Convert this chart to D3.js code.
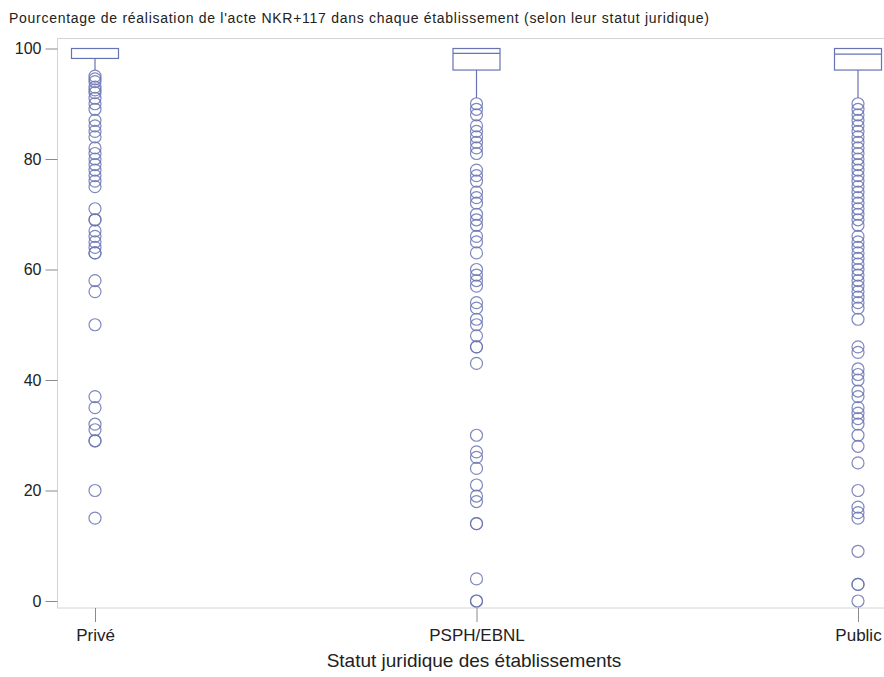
<!DOCTYPE html>
<html>
<head>
<meta charset="utf-8">
<script src="https://cdn.jsdelivr.net/npm/d3@7"></script>
<style>
  body { margin: 0; background: #fff; }
  svg text { font-family: Arial, "Liberation Sans", sans-serif; fill: #222; }
</style>
</head>
<body>
<svg id="chart" width="884" height="677"></svg>
<script>
// categories + box stats
var categories = ['Privé', 'PSPH/EBNL', 'Public'];
var q1 = [98.2, 96.1, 96.1];
var median = [100, 99.1, 99.0];
var q3 = [100, 100, 100];
var whiskerLow = [96.1, 91, 91];
var whiskerHigh = [100, 100, 100];

var outliersPrive = [95, 94.5, 94, 93, 92.5, 92, 91, 90, 89, 87, 86, 85, 84, 82, 81, 80, 79, 78, 77, 76, 75,
    71, 69, 69, 67, 66, 65, 64, 63, 63, 58, 56, 50, 37, 35, 32, 31, 29, 29, 20, 15];
var outliersPsph = [90, 89, 88, 86, 85, 84, 83, 82, 81, 78, 77, 76, 74, 73, 72, 70, 69, 68, 66, 65, 63,
    60, 59, 58, 57, 54, 53, 51, 50, 48, 46, 46, 43, 30, 27, 26, 24, 21, 19, 18, 14, 14, 4, 0, 0];
var outliersPublic = [90, 89, 88, 87, 86, 85, 84, 83, 82, 81, 80, 79, 78, 77, 76, 75, 74, 73, 72, 71, 70,
    69, 68, 66, 65, 64, 63, 62, 61, 60, 59, 58, 57, 56, 55, 54, 53, 51, 46, 45, 42, 41, 40, 38, 37, 35,
    34, 33, 32, 30, 28, 25, 20, 17, 16, 15, 9, 3, 3, 0];

var yTicks = [0, 20, 40, 60, 80, 100];

var titleText = "Pourcentage de réalisation de l'acte NKR+117 dans chaque établissement (selon leur statut juridique)";
var xTitle = 'Statut juridique des établissements';

var outliers = [outliersPrive, outliersPsph, outliersPublic];
var boxes = categories.map(function(c, i){
    return { cat: c, q1: q1[i], med: median[i], q3: q3[i], lo: whiskerLow[i], hi: whiskerHigh[i] };
});

var svg = d3.select('#chart');
var col = '#6873b2';
var frameLeft = 57.5, frameTop = 38.5, frameBottom = 608, frameRight = 895;

var x = d3.scalePoint().domain(categories).range([95, 858]);
var y = d3.scaleLinear().domain([0, 100]).range([601, 48.5]);
var boxW = 47;

// plot frame
svg.append('rect')
    .attr('x', frameLeft).attr('y', frameTop)
    .attr('width', frameRight - frameLeft).attr('height', frameBottom - frameTop)
    .attr('fill', 'none').attr('stroke', '#d4d4d4');

// y axis
var yAx = svg.append('g')
    .attr('transform', `translate(${frameLeft},0)`)
    .call(d3.axisLeft(y).tickValues(yTicks).tickSize(12).tickPadding(4));
yAx.select('.domain').remove();
yAx.selectAll('line').attr('stroke', '#8a8a8a');
yAx.selectAll('text').style('font-size', '16px').attr('fill', '#222');

// x axis
var xAx = svg.append('g')
    .attr('transform', `translate(0,${frameBottom})`)
    .call(d3.axisBottom(x).tickSize(14).tickPadding(7));
xAx.select('.domain').remove();
xAx.selectAll('line').attr('stroke', '#8a8a8a');
xAx.selectAll('text').style('font-size', '17px').attr('fill', '#222');

// whiskers
svg.append('g').selectAll('line.wh')
    .data(boxes).join('line')
    .attr('x1', d => x(d.cat)).attr('x2', d => x(d.cat))
    .attr('y1', d => y(d.q1)).attr('y2', d => y(d.lo))
    .attr('stroke', col).attr('stroke-width', 1.2);

// boxes
svg.append('g').selectAll('rect')
    .data(boxes).join('rect')
    .attr('x', d => x(d.cat) - boxW / 2)
    .attr('y', d => y(d.q3))
    .attr('width', boxW)
    .attr('height', d => y(d.q1) - y(d.q3))
    .attr('fill', 'none').attr('stroke', col).attr('stroke-width', 1.2);

svg.append('g').selectAll('line')
    .data(boxes).join('line')
    .attr('x1', d => x(d.cat) - boxW / 2).attr('x2', d => x(d.cat) + boxW / 2)
    .attr('y1', d => y(d.med)).attr('y2', d => y(d.med))
    .attr('stroke', col).attr('stroke-width', 1.2);

// outliers
var pts = [];
outliers.forEach(function(arr, i){
    arr.forEach(function(v){ pts.push({ cat: categories[i], v: v }); });
});
svg.append('g').selectAll('circle')
    .data(pts).join('circle')
    .attr('cx', d => x(d.cat))
    .attr('cy', d => y(d.v))
    .attr('r', 6)
    .attr('fill', 'none').attr('stroke', col).attr('stroke-width', 1.2).attr('stroke-opacity', 0.85);

// titles
svg.append('text')
    .attr('x', 9).attr('y', 23)
    .style('font-size', '14px')
    .attr('textLength', 700)
    .text(titleText);

svg.append('text')
    .attr('x', 474).attr('y', 667)
    .attr('text-anchor', 'middle')
    .style('font-size', '19px')
    .text(xTitle);
</script>
</body>
</html>
